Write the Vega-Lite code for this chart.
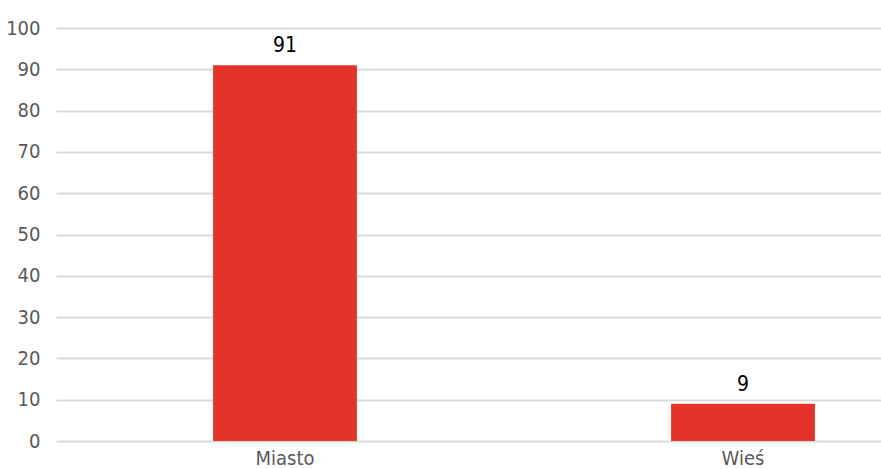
{
  "$schema": "https://vega.github.io/schema/vega-lite/v6.json",
  "autosize": {"type": "none"},
  "padding": {"left": 56, "top": 28, "right": 0, "bottom": 28},
  "width": 916,
  "height": 413,
  "background": "white",
  "data": {"values": [
    {"kategoria": "Miasto", "wartosc": 91},
    {"kategoria": "Wieś", "wartosc": 9}
  ]},
  "encoding": {
    "x": {
      "field": "kategoria", "type": "nominal", "sort": null,
      "scale": {"paddingInner": 0.686, "paddingOuter": 0.343},
      "axis": {"title": null, "labelAngle": 0, "domain": false, "ticks": false, "labelPadding": 7,
               "labelFont": "'DejaVu Sans Condensed', Roboto, sans-serif", "labelFontSize": 20, "labelColor": "#595959"}
    },
    "y": {
      "field": "wartosc", "type": "quantitative",
      "scale": {"domain": [0, 100], "nice": false},
      "axis": {"title": null, "values": [0,10,20,30,40,50,60,70,80,90,100], "domain": false, "ticks": false,
               "labelPadding": 16, "labelFont": "'DejaVu Sans Condensed', Roboto, sans-serif", "labelFontSize": 20, "labelColor": "#595959",
               "gridColor": "#d9d9d9", "gridWidth": 2}
    }
  },
  "layer": [
    {"mark": {"type": "bar", "color": "#e6332a"}},
    {"mark": {"type": "text", "baseline": "bottom", "dy": -9, "font": "'DejaVu Sans Condensed', Roboto, sans-serif", "fontSize": 21, "color": "#000000"},
     "encoding": {"text": {"field": "wartosc", "type": "quantitative"}}}
  ],
  "config": {"view": {"stroke": null}}
}
